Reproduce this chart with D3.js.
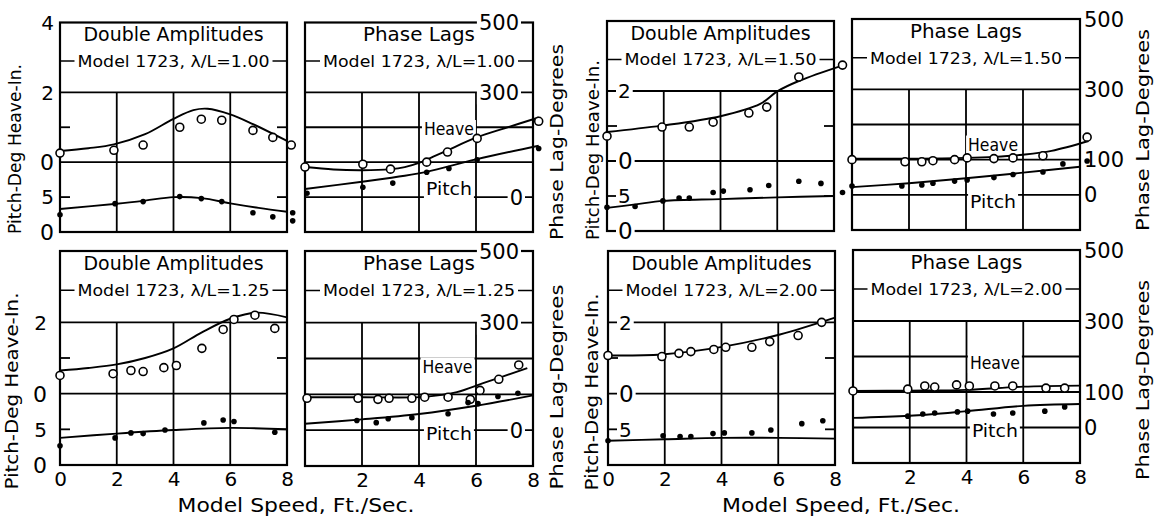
<!DOCTYPE html>
<html><head><meta charset="utf-8">
<script src="https://cdn.jsdelivr.net/npm/d3@7"></script>
<style>
html,body{margin:0;padding:0;background:#fff;}
svg{display:block;}
</style></head><body>
<svg id="chart" width="1156" height="519"></svg>
<script>
// ---------- tick labels / categories ----------
const speedTicks = [0, 2, 4, 6, 8];
const speedGrid = [2, 4, 6];
const titles = { amp: "Double Amplitudes", phase: "Phase Lags" };
const seriesNames = ["Heave", "Pitch"];
const leftAxisTitle = "Pitch-Deg Heave-In.";
const rightAxisTitle = "Phase Lag-Degrees";
const xAxisTitle = "Model Speed,  Ft./Sec.";

// ---------- data: Double amplitudes (heave in inches, pitch in degrees) ----------
// λ/L = 1.00
const ampHeavePts100 = [[0,0.26],[1.9,0.34],[2.93,0.49],[4.22,1.0],[4.98,1.23],[5.7,1.2],[6.8,0.91],[7.5,0.71],[8.15,0.49]];
const ampHeaveCurve100 = [[0,0.32],[1,0.4],[1.9,0.51],[3,0.8],[4,1.24],[4.7,1.49],[5.2,1.53],[6,1.37],[6.8,1.09],[8,0.61]];
const ampPitchPts100 = [[0,2.46],[1.94,4.06],[2.93,4.35],[4.22,5.07],[4.98,4.78],[5.7,4.35],[6.8,2.75],[7.5,2.17],[8.2,2.75],[8.2,1.6]];
const ampPitchCurve100 = [[0,3.3],[2,4.05],[3,4.5],[4,5.0],[5,4.85],[6,4.1],[7,3.45],[8,2.9]];
// λ/L = 1.50
const ampHeavePts150 = [[0,0.71],[1.94,0.97],[2.9,0.97],[3.74,1.11],[5.0,1.37],[5.63,1.54],[6.76,2.4],[8.3,2.74]];
const ampHeaveCurve150 = [[0,0.83],[1.93,1.01],[4,1.28],[5.4,1.63],[6,1.99],[6.8,2.3],[8.26,2.72]];
const ampPitchPts150 = [[0,3.4],[0.99,3.5],[1.97,4.3],[2.54,4.7],[2.9,4.7],[3.74,5.5],[4.1,5.7],[5.04,5.9],[5.7,6.5],[6.76,7.1],[7.54,6.8],[8.3,5.5]];
const ampPitchCurve150 = [[0,3.3],[1,3.8],[2,4.3],[4,4.56],[6,4.8],[8,5.0]];
// λ/L = 1.25
const ampHeavePts125 = [[0,0.51],[1.87,0.56],[2.5,0.65],[2.93,0.62],[3.66,0.73],[4.1,0.79],[5.0,1.27],[5.75,1.8],[6.13,2.08],[6.87,2.2],[7.57,1.83]];
const ampHeaveCurve125 = [[0,0.65],[1,0.72],[2,0.82],[3,1.0],[4,1.27],[5,1.72],[6,2.1],[6.9,2.27],[8,2.14]];
const ampPitchPts125 = [[0,2.7],[1.94,3.8],[2.5,4.5],[2.93,4.4],[3.7,4.9],[5.07,5.9],[5.75,6.3],[6.13,6.1],[7.57,4.6]];
const ampPitchCurve125 = [[0,3.8],[2,4.4],[4,4.9],[6,5.2],[8,5.0]];
// λ/L = 2.00
const ampHeavePts200 = [[0,1.07],[1.9,1.04],[2.5,1.13],[2.92,1.18],[3.73,1.24],[4.15,1.3],[5.07,1.3],[5.7,1.46],[6.7,1.63],[7.53,2.0]];
const ampHeaveCurve200 = [[0,1.07],[1.9,1.1],[4.07,1.32],[6.06,1.66],[8,2.13]];
const ampPitchPts200 = [[0,3.4],[1.94,4.1],[2.54,4.0],[2.92,4.0],[3.7,4.4],[4.1,4.5],[5.07,4.5],[5.74,4.9],[6.83,5.8],[7.57,6.2]];
const ampPitchCurve200 = [[0,3.4],[2,3.6],[4,3.8],[6,3.8],[8,3.7]];

// ---------- data: Phase lags (degrees) ----------
const lagHeavePts100 = [[0,86],[2.03,94],[3.0,80],[4.27,100],[5.0,129],[6.04,168],[8.2,217]];
const lagHeaveCurve100 = [[0,86],[1,79],[2,77],[3,80],[3.5,86],[4,98],[4.5,116],[5,134],[6,170],[7,197],[8.2,228]];
const lagPitchPts100 = [[0.07,11],[2.03,28],[3.08,40],[4.27,71],[5.05,82],[6.04,107],[8.2,139]];
const lagPitchCurve100 = [[0,23],[2,44],[3.5,61],[4.3,73],[6,108],[8.2,147]];

const lagHeavePts150 = [[0,100],[1.86,94],[2.45,94],[2.84,97],[3.6,100],[4.04,105],[4.98,103],[5.65,105],[6.7,111],[8.25,164]];
const lagHeaveCurve150 = [[0,103],[2,103],[4,105],[5,108],[6,114],[7,125],[8.3,153]];
const lagPitchPts150 = [[0,25],[1.75,25],[2.45,28],[2.84,33],[3.6,39],[4.04,42],[4.98,49],[5.65,58],[6.7,65],[7.4,88],[8.25,96]];
const lagPitchCurve150 = [[0,22],[2,33],[4,47],[6,63],[8,80]];

const lagHeavePts125 = [[0.07,89],[1.86,89],[2.56,86],[2.95,89],[3.75,89],[4.2,92],[5.02,92],[5.8,86],[6.14,111],[6.8,142],[7.5,182]];
const lagHeaveCurve125 = [[0,92],[2,92],[4.2,93],[5.33,106],[6.25,131],[7.8,173]];
const lagPitchPts125 = [[1.82,27],[2.5,21],[2.92,32],[3.75,35],[5.02,46],[5.72,77],[6.07,74],[6.77,94],[7.47,103]];
const lagPitchCurve125 = [[0,18],[2,30],[4,45],[6,68],[8,97]];

const lagHeavePts200 = [[0,103],[1.93,108],[2.53,117],[2.88,114],[3.65,120],[4.1,117],[5.0,117],[5.63,117],[6.8,111],[7.46,111]];
const lagHeaveCurve200 = [[0,103],[2,104],[4,106],[6,115],[8,118]];
const lagPitchPts200 = [[1.93,32],[2.46,38],[2.88,41],[3.68,44],[4.04,46],[4.95,38],[5.63,41],[6.76,46],[7.46,58]];
const lagPitchCurve200 = [[0,27],[2,33],[4,46],[6,61],[8,66]];

// ---------- scale domains ----------
const speedDomain = [0, 8];
const heaveDomain = [-2, 4];   // inches
const pitchDomain = [0, 30];   // degrees
const phaseDomain = [-100, 500];

// ---------- layout ----------
const FONT = "'DejaVu Sans', 'Noto Sans', sans-serif";
const panels = [
  {kind:"amp", ratio:"1.00", left:60, right:287, top:22.5, bottom:232,
   hp:ampHeavePts100, hc:ampHeaveCurve100, pp:ampPitchPts100, pc:ampPitchCurve100,
   heaveTicks:[4,2,0], pitchTicks:[5,0], tickMode:"out", tickX:54,
   ax:{x:15, y:149, len:170}},
  {kind:"phase", ratio:"1.00", left:305, right:533, top:22.5, bottom:232,
   hp:lagHeavePts100, hc:lagHeaveCurve100, pp:lagPitchPts100, pc:lagPitchCurve100,
   phaseTicks:[500,300,0], tickMode:"in", heaveLab:[5.05,195], pitchLab:[5.05,25],
   ax:{x:557, y:142, len:196}},
  {kind:"amp", ratio:"1.50", left:607, right:834, top:21, bottom:231,
   hp:ampHeavePts150, hc:ampHeaveCurve150, pp:ampPitchPts150, pc:ampPitchCurve150,
   heaveTicks:[2,0], pitchTicks:[5,0], tickMode:"in",
   ax:{x:593, y:150, len:180}},
  {kind:"phase", ratio:"1.50", left:852, right:1080, top:19, bottom:230,
   hp:lagHeavePts150, hc:lagHeaveCurve150, pp:lagPitchPts150, pc:lagPitchCurve150,
   phaseTicks:[500,300,100,0], tickMode:"out", heaveLab:[4.95,143], pitchLab:[4.95,-20],
   ax:{x:1143, y:130, len:202}},
  {kind:"amp", ratio:"1.25", left:60, right:287, top:251, bottom:465,
   hp:ampHeavePts125, hc:ampHeaveCurve125, pp:ampPitchPts125, pc:ampPitchCurve125,
   heaveTicks:[2,0], pitchTicks:[5,0], tickMode:"out", tickX:47,
   ax:{x:12, y:391, len:197}, xTicks:[0,2,4,6,8]},
  {kind:"phase", ratio:"1.25", left:305, right:533, top:251, bottom:466,
   hp:lagHeavePts125, hc:lagHeaveCurve125, pp:lagPitchPts125, pc:lagPitchCurve125,
   phaseTicks:[500,300,0], tickMode:"in", heaveLab:[5.0,178], pitchLab:[5.05,-8],
   ax:{x:557, y:387, len:205}, xTicks:[2,4,6,8]},
  {kind:"amp", ratio:"2.00", left:608, right:835, top:251, bottom:465,
   hp:ampHeavePts200, hc:ampHeaveCurve200, pp:ampPitchPts200, pc:ampPitchCurve200,
   heaveTicks:[2,0], pitchTicks:[5], tickMode:"in",
   ax:{x:592, y:392, len:197}, xTicks:[0,2,4,6,8]},
  {kind:"phase", ratio:"2.00", left:853, right:1080, top:250, bottom:463,
   hp:lagHeavePts200, hc:lagHeaveCurve200, pp:lagPitchPts200, pc:lagPitchCurve200,
   phaseTicks:[500,300,100,0], tickMode:"out", heaveLab:[5.0,182], pitchLab:[5.0,-8],
   ax:{x:1143, y:380, len:200}, xTicks:[2,4,6,8]}
];
const xTitles = [{cx:296, y:505, len:237}, {cx:841, y:505, len:238}];

const svg = d3.select("#chart");
svg.append("rect").attr("width",1156).attr("height",519).attr("fill","#fff");

function txt(g, x, y, s, size, anchor) {
  return g.append("text").attr("x", x).attr("y", y).attr("dy", "0.36em")
    .attr("text-anchor", anchor || "middle").attr("font-family", FONT)
    .attr("font-size", size).attr("fill", "#000").text(s);
}
function bg(g, t, padX, padY) {
  const b = t.node().getBBox();
  g.insert("rect", () => t.node())
    .attr("x", b.x - padX).attr("y", b.y - padY + b.height*0.12)
    .attr("width", b.width + 2*padX).attr("height", b.height*0.82 + 2*padY)
    .attr("fill", "#fff");
}

function drawPanel(p) {
  const g = svg.append("g");
  const x = d3.scaleLinear().domain(speedDomain).range([p.left, p.right]);
  const u = d3.scaleLinear().domain([0, 6]).range([p.bottom, p.top]);
  let yH, yP;
  if (p.kind === "amp") {
    yH = d3.scaleLinear().domain(heaveDomain).range([p.bottom, p.top]);
    yP = d3.scaleLinear().domain(pitchDomain).range([p.bottom, p.top]);
  } else {
    yH = yP = d3.scaleLinear().domain(phaseDomain).range([p.bottom, p.top]);
  }
  const lines = g.append("g").attr("stroke", "#000").attr("stroke-width", 1.8).attr("fill", "none");
  lines.selectAll(null).data(speedGrid).join("line")
    .attr("x1", d => x(d)).attr("x2", d => x(d)).attr("y1", u(0)).attr("y2", u(4));
  const full = p.kind === "amp" ? [yH(2), yH(0)] : [300, 200, 100, 0].map(v => yH(v));
  lines.selectAll(null).data(full).join("line")
    .attr("x1", p.left).attr("x2", p.right).attr("y1", d => d).attr("y2", d => d);
  if (p.kind === "amp") {
    const ticks = [yH(1), yP(5)];
    ticks.forEach(t => {
      lines.append("line").attr("x1", p.left).attr("x2", p.left + 10).attr("y1", t).attr("y2", t);
      lines.append("line").attr("x1", p.right - 10).attr("x2", p.right).attr("y1", t).attr("y2", t);
    });
  }
  lines.append("line").attr("x1", p.left).attr("x2", p.right).attr("y1", u(4.9)).attr("y2", u(4.9)).attr("stroke-width", 1.5);
  lines.append("rect").attr("x", p.left).attr("y", p.top).attr("width", p.right - p.left)
    .attr("height", p.bottom - p.top).attr("stroke-width", 2.2);

  const cx = (p.left + p.right) / 2;
  txt(g, cx, u(5.66), titles[p.kind], 19).attr("textLength", p.kind === "amp" ? 180 : 112).attr("lengthAdjust", "spacingAndGlyphs");
  const sub = txt(g, cx, u(4.9), "Model 1723, \u03bb/L=" + p.ratio, 16.5).attr("textLength", 192).attr("lengthAdjust", "spacingAndGlyphs");
  bg(g, sub, 3, 1);

  if (p.kind === "amp") {
    const items = p.heaveTicks.map(v => ({y: yH(v), t: String(v)})).concat(p.pitchTicks.map(v => ({y: yP(v), t: String(v)})));
    items.forEach(it => {
      const big = it.t === "0";
      if (p.tickMode === "out") {
        txt(g, p.tickX, it.y, it.t, big ? 22 : 20, "end");
      } else {
        const t = txt(g, p.left + 11, it.y, it.t, big ? 23 : 20, "start");
        bg(g, t, 2, 1);
      }
    });
  } else {
    p.phaseTicks.forEach(v => {
      if (p.tickMode === "in") {
        const t = txt(g, p.right - (v === 0 ? 10 : 14), yH(v), String(v), 21, "end");
        bg(g, t, 2, 1);
      } else {
        txt(g, p.right + 4, yH(v), String(v), 21, "start");
      }
    });
    const hl = txt(g, x(p.heaveLab[0]), yH(p.heaveLab[1]), seriesNames[0], 18).attr("textLength", 50).attr("lengthAdjust", "spacingAndGlyphs");
    bg(g, hl, 2, 1);
    const pl = txt(g, x(p.pitchLab[0]), yH(p.pitchLab[1]), seriesNames[1], 18).attr("textLength", 46).attr("lengthAdjust", "spacingAndGlyphs");
    bg(g, pl, 2, 1);
  }

  const lineH = d3.line().x(d => x(d[0])).y(d => yH(d[1])).curve(d3.curveCatmullRom.alpha(0.5));
  const lineP = d3.line().x(d => x(d[0])).y(d => yP(d[1])).curve(d3.curveCatmullRom.alpha(0.5));
  g.append("path").attr("d", lineH(p.hc)).attr("fill", "none").attr("stroke", "#000").attr("stroke-width", 1.9);
  g.append("path").attr("d", lineP(p.pc)).attr("fill", "none").attr("stroke", "#000").attr("stroke-width", 1.9);
  g.selectAll(null).data(p.hp).join("circle")
    .attr("cx", d => x(d[0])).attr("cy", d => yH(d[1])).attr("r", 4)
    .attr("fill", "#fff").attr("stroke", "#000").attr("stroke-width", 1.6);
  g.selectAll(null).data(p.pp).join("circle")
    .attr("cx", d => x(d[0])).attr("cy", d => yP(d[1])).attr("r", 2.8).attr("fill", "#000");

  g.append("text").attr("transform", `translate(${p.ax.x},${p.ax.y}) rotate(-90)`)
    .attr("text-anchor", "middle").attr("dy", "0.36em").attr("font-family", FONT).attr("font-size", 18)
    .attr("textLength", p.ax.len).attr("lengthAdjust", "spacingAndGlyphs")
    .text(p.kind === "amp" ? leftAxisTitle : rightAxisTitle);

  if (p.xTicks) {
    const ax = g.append("g").attr("transform", `translate(0,${p.bottom})`)
      .call(d3.axisBottom(x).tickValues(p.xTicks).tickSize(0).tickPadding(7).tickFormat(d3.format("d")));
    ax.select(".domain").remove();
    ax.selectAll("text").attr("font-family", FONT).attr("font-size", 20).attr("fill", "#000");
  }
}

panels.forEach(drawPanel);

xTitles.forEach(t => {
  txt(svg, t.cx, t.y, xAxisTitle, 19).attr("textLength", t.len).attr("lengthAdjust", "spacingAndGlyphs");
});
</script>
</body></html>
